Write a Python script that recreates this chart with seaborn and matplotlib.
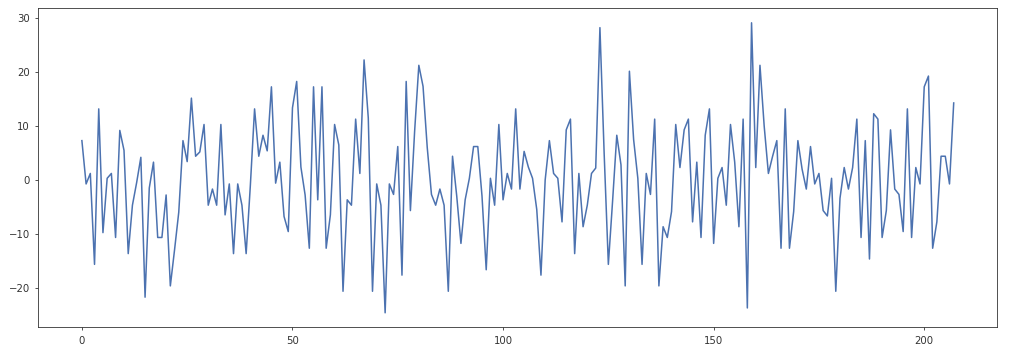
import numpy as np
import pandas as pd
import matplotlib
matplotlib.use("Agg")
import matplotlib.pyplot as plt
import seaborn as sns

values = [
    7.3, -0.75, 1.2, -15.7, 13.2, -9.8, 0.3, 1.2, -10.7, 9.2,
    5.5, -13.7, -4.7, -0.5, 4.2, -21.8, -1.5, 3.3, -10.7, -10.7,
    -2.8, -19.7, -13, -6, 7.3, 3.4, 15.2, 4.4, 5.2, 10.3,
    -4.7, -1.7, -4.7, 10.3, -6.5, -0.75, -13.7, -0.75, -4.7, -13.7,
    -1, 13.2, 4.4, 8.3, 5.4, 17.3, -0.6, 3.3, -6.8, -9.6,
    13.4, 18.3, 2.4, -2.8, -12.7, 17.3, -3.7, 17.3, -12.7, -6.5,
    10.3, 6.5, -20.7, -3.7, -4.7, 11.3, 1.2, 22.3, 11.5, -20.7,
    -0.75, -4.7, -24.7, -0.75, -2.7, 6.2, -17.7, 18.3, -5.7, 9,
    21.3, 17.4, 6, -2.7, -4.7, -1.7, -4.7, -20.7, 4.4, -3,
    -11.8, -3.7, 0.3, 6.2, 6.2, -3, -16.7, 0.3, -4.7, 10.3,
    -3.7, 1.2, -1.7, 13.2, -1.7, 5.3, 2.4, 0.3, -5.5, -17.7,
    0, 7.3, 1.2, 0.3, -7.8, 9.3, 11.3, -13.7, 1.2, -8.7,
    -4.7, 1.2, 2.2, 28.3, 5, -15.7, -4, 8.3, 2.8, -19.7,
    20.2, 7.5, 0.3, -15.7, 1.2, -2.7, 11.3, -19.7, -8.7, -10.7,
    -5.9, 10.3, 2.3, 9.3, 11.3, -7.8, 3.3, -10.7, 8.3, 13.2,
    -11.8, 0.3, 2.3, -4.7, 10.3, 3.3, -8.7, 11.3, -23.8, 29.2,
    2.3, 21.3, 10, 1.2, 4.4, 7.3, -12.7, 13.2, -12.7, -5.9,
    7.3, 2, -1.7, 6.2, -0.75, 1.2, -5.7, -6.7, 0.3, -20.7,
    -3.4, 2.3, -1.7, 2.3, 11.3, -10.7, 7.3, -14.7, 12.3, 11.3,
    -10.7, -5.7, 9.3, -1.7, -2.7, -9.6, 13.2, -10.7, 2.3, -0.75,
    17.3, 19.3, -12.7, -7.8, 4.4, 4.4, -0.75, 14.3,
]
index = list(range(len(values)))

df = pd.DataFrame({"x": index, "y": values})

plt.rcParams["font.family"] = ["DejaVu Sans"]
fig = plt.figure(figsize=(10.24, 3.55), dpi=100)
ax = fig.add_axes([38.3 / 1024, 1 - 327.3 / 355, (997.3 - 38.3) / 1024, (327.3 - 8.3) / 355])

sns.lineplot(data=df, x="x", y="y", ax=ax, color="#4C72B0", linewidth=1.1)

ax.set_xlabel("")
ax.set_ylabel("")
ax.set_xticks([0, 50, 100, 150, 200])
ax.set_yticks([-20, -10, 0, 10, 20, 30])
ax.tick_params(labelsize=7.3, length=2.5, width=0.6, colors="#333333", labelcolor="#333333")
for s in ax.spines.values():
    s.set_linewidth(0.6)
    s.set_color("#333333")

fig.savefig("out.png", dpi=100)
